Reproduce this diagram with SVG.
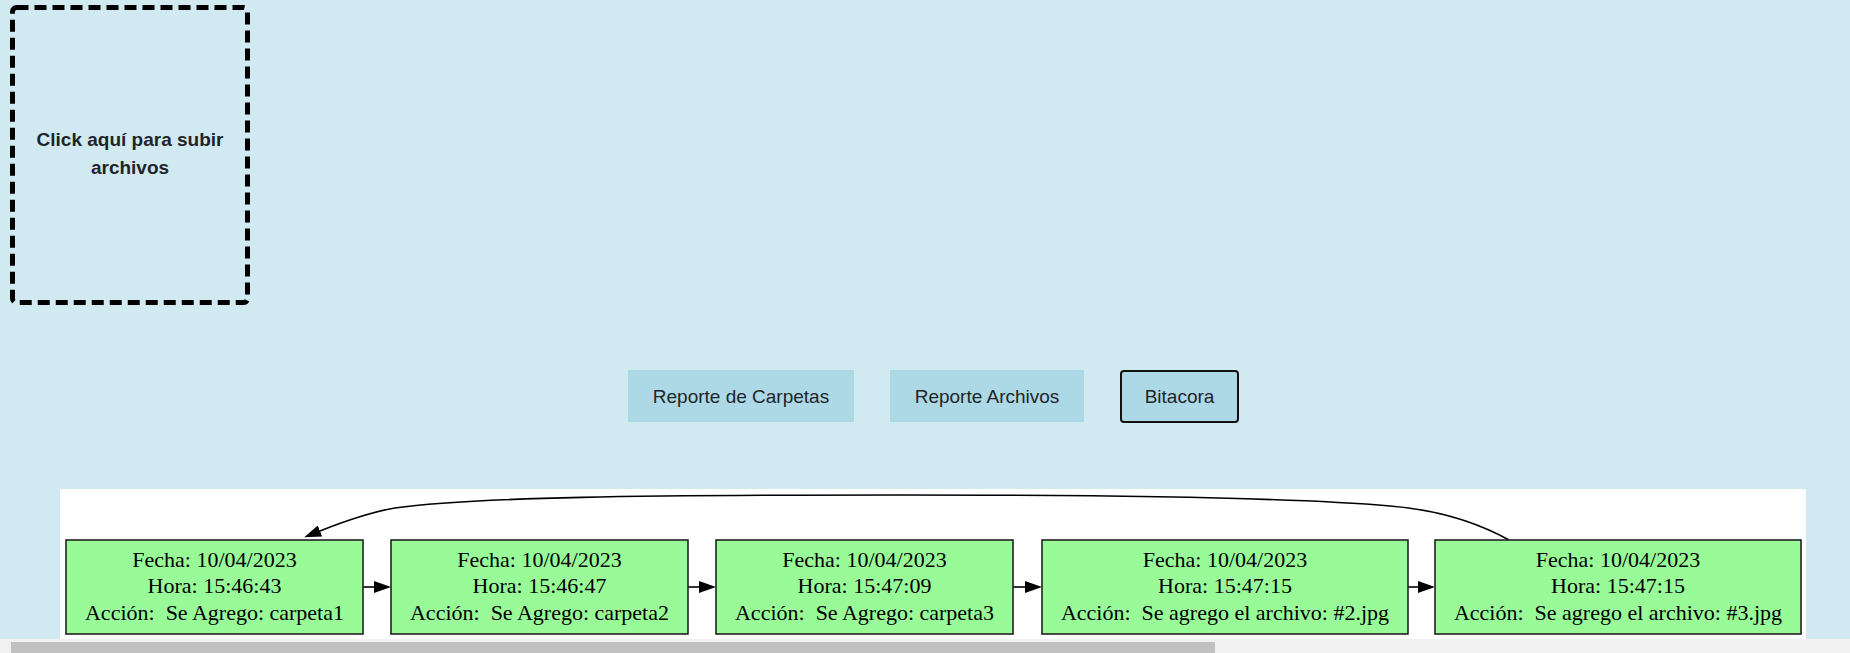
<svg xmlns="http://www.w3.org/2000/svg" width="1850" height="653" viewBox="0 0 1850 653">
<style>
.bg{fill:#d1eaf1}
.btn{fill:#add8e6}
.btntxt{font-family:"Liberation Sans",Arial,sans-serif;font-size:19px;fill:#212529;text-anchor:middle}
.drop{font-family:"Liberation Sans",Arial,sans-serif;font-size:19px;font-weight:bold;fill:#212529;text-anchor:middle}
.node rect{fill:#98fb98;stroke:#222;stroke-width:1.6}
.node text{font-family:"Liberation Serif","Times New Roman",serif;font-size:22px;fill:#000;text-anchor:middle;white-space:pre}
.edge{fill:none;stroke:#000;stroke-width:1.6}
</style>
<defs>
<marker id="arr" viewBox="0 0 10 7" markerWidth="17" markerHeight="12" refX="0" refY="3.5" orient="auto" markerUnits="userSpaceOnUse">
<path d="M0,0 L10,3.5 L0,7 z" fill="#000"/>
</marker>
</defs>
<rect class="bg" x="0" y="0" width="1850" height="653"/>
<g id="dropzone">
<rect x="12.5" y="7.5" width="235" height="295" rx="4" fill="none" stroke="#000" stroke-width="5" stroke-dasharray="12 6"/>
<text class="drop" x="130" y="145.5">Click aquí para subir</text>
<text class="drop" x="130" y="174">archivos</text>
</g>
<g id="btn-carpetas">
<rect class="btn" x="628" y="370" width="226" height="52"/>
<text class="btntxt" x="741" y="402.5">Reporte de Carpetas</text>
</g>
<g id="btn-archivos">
<rect class="btn" x="890" y="370" width="194" height="52"/>
<text class="btntxt" x="987" y="402.5">Reporte Archivos</text>
</g>
<g id="btn-bitacora">
<rect class="btn" x="1121" y="371" width="117" height="51" rx="3" stroke="#111" stroke-width="2"/>
<text class="btntxt" x="1179.5" y="402.5">Bitacora</text>
</g>
<rect id="panel" x="60" y="489" width="1746" height="150" fill="#fff"/>
<g id="connectors">
<path class="edge" d="M363,587 L374,587" marker-end="url(#arr)"/>
<path class="edge" d="M688,587 L699,587" marker-end="url(#arr)"/>
<path class="edge" d="M1013,587 L1025,587" marker-end="url(#arr)"/>
<path class="edge" d="M1408,587 L1418,587" marker-end="url(#arr)"/>
<path class="edge" d="M1509,540 C1480,524 1440,510 1390,506 C1300,498 1150,495 900,495 C650,495 470,497 395,508 C372,512 345,521 320,531" marker-end="url(#arr)"/>
</g>
<g id="node1" class="node">
<rect x="66" y="540" width="297" height="94"/>
<text x="214.5" y="566.7">Fecha: 10/04/2023</text>
<text x="214.5" y="593.3">Hora: 15:46:43</text>
<text x="214.5" y="620">Acción:  Se Agrego: carpeta1</text>
</g>
<g id="node2" class="node">
<rect x="391" y="540" width="297" height="94"/>
<text x="539.5" y="566.7">Fecha: 10/04/2023</text>
<text x="539.5" y="593.3">Hora: 15:46:47</text>
<text x="539.5" y="620">Acción:  Se Agrego: carpeta2</text>
</g>
<g id="node3" class="node">
<rect x="716" y="540" width="297" height="94"/>
<text x="864.5" y="566.7">Fecha: 10/04/2023</text>
<text x="864.5" y="593.3">Hora: 15:47:09</text>
<text x="864.5" y="620">Acción:  Se Agrego: carpeta3</text>
</g>
<g id="node4" class="node">
<rect x="1042" y="540" width="366" height="94"/>
<text x="1225" y="566.7">Fecha: 10/04/2023</text>
<text x="1225" y="593.3">Hora: 15:47:15</text>
<text x="1225" y="620">Acción:  Se agrego el archivo: #2.jpg</text>
</g>
<g id="node5" class="node">
<rect x="1435" y="540" width="366" height="94"/>
<text x="1618" y="566.7">Fecha: 10/04/2023</text>
<text x="1618" y="593.3">Hora: 15:47:15</text>
<text x="1618" y="620">Acción:  Se agrego el archivo: #3.jpg</text>
</g>
<g id="scrollbar">
<rect x="0" y="639" width="1850" height="14" fill="#f1f1f1"/>
<rect x="11" y="642" width="1204" height="11" fill="#c1c1c1"/>
</g>
</svg>
